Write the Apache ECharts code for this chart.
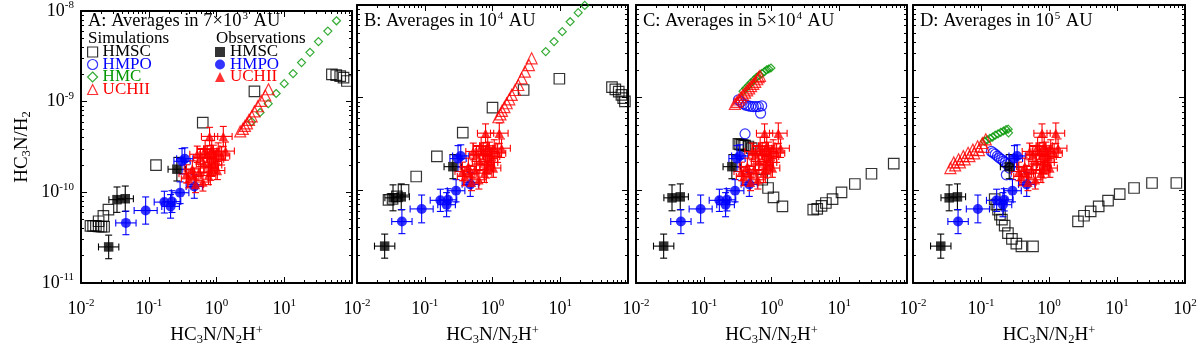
<!DOCTYPE html>
<html><head><meta charset="utf-8">
<script src="https://cdn.jsdelivr.net/npm/echarts@6/dist/echarts.min.js"></script>
<style>html,body{margin:0;padding:0;background:#fff}#c{width:1200px;height:355px}</style>
</head><body><div id="c"></div>
<script>
// ---------- axis ticks / labels ----------
const xMajor = [0.01, 0.1, 1, 10, 100];
const xMajorLabels = ['-2', '-1', '0', '1', '2'];
const xMinor = [0.02,0.03,0.04,0.05,0.06,0.07,0.08,0.09,0.2,0.3,0.4,0.5,0.6,0.7,0.8,0.9,2,3,4,5,6,7,8,9,20,30,40,50,60,70,80,90];
const yMajor = [1e-11, 1e-10, 1e-9, 1e-8];
const yMajorLabels = ['-11', '-10', '-9', '-8'];
const yMinor = [2e-11,3e-11,4e-11,5e-11,6e-11,7e-11,8e-11,9e-11,2e-10,3e-10,4e-10,5e-10,6e-10,7e-10,8e-10,9e-10,2e-9,3e-9,4e-9,5e-9,6e-9,7e-9,8e-9,9e-9];
const panelTitles = ['A: Averages in 7×10{s|3} AU', 'B: Averages in 10{s|4} AU', 'C: Averages in 5×10{s|4} AU', 'D: Averages in 10{s|5} AU'];

// ---------- observations: [x, y, xErr(dex), yErr(dex)] ----------
const obsHMSC = [[0.0256,2.5e-11,0.15,0.13],[0.034,8.3e-11,0.12,0.14],[0.045,8.5e-11,0.12,0.14],[0.26,1.8e-10,0.13,0.13]];
const obsHMPO = [[0.046,4.6e-11,0.15,0.13],[0.09,6.3e-11,0.17,0.15],[0.17,7.8e-11,0.15,0.12],[0.21,7.0e-11,0.13,0.13],[0.22,7.9e-11,0.13,0.12],[0.29,9.9e-11,0.13,0.12],[0.47,1.16e-10,0.12,0.13],[0.31,2.2e-10,0.12,0.14],[0.34,2.35e-10,0.12,0.12]];
const obsUCHII = [[0.79,4.14e-10,0.12,0.1],[1.26,4.14e-10,0.13,0.11],[0.52,2.63e-10,0.11,0.09],[0.68,2.97e-10,0.12,0.1],[0.85,3.03e-10,0.12,0.09],[1.06,2.79e-10,0.11,0.1],[1.36,2.85e-10,0.13,0.1],[0.79,2.42e-10,0.1,0.09],[0.97,2.32e-10,0.12,0.1],[0.65,2.05e-10,0.11,0.09],[0.85,1.89e-10,0.1,0.1],[0.55,1.67e-10,0.12,0.09],[0.36,1.60e-10,0.11,0.1],[0.47,1.51e-10,0.1,0.09],[0.63,1.30e-10,0.11,0.1],[0.49,1.22e-10,0.12,0.09],[0.76,1.53e-10,0.11,0.1],[0.95,2.0e-10,0.1,0.09],[1.19,2.52e-10,0.12,0.1],[0.73,2.63e-10,0.11,0.09],[0.58,2.42e-10,0.1,0.1],[0.44,1.81e-10,0.12,0.09],[1.03,1.74e-10,0.11,0.1],[0.82,1.67e-10,0.1,0.09],[0.39,1.41e-10,0.11,0.1],[0.90,2.63e-10,0.12,0.1]];

// ---------- simulations, panel A ----------
const simHMSC_A = [[0.0138,4.27e-11],[0.0151,4.27e-11],[0.0166,4.27e-11],[0.0182,4.2e-11],[0.020,4.17e-11],[0.0219,4.17e-11],[0.0182,4.8e-11],[0.0214,5.5e-11],[0.0254,6.45e-11],[0.128,2.0e-10],[0.627,5.86e-10],[3.63,1.30e-9],[50.5,2.0e-9],[58.5,1.96e-9],[67,1.91e-9],[75,1.84e-9],[84,1.69e-9]];
const simHMPO_A = [];
const simHMC_A = [[3.3,6.0e-10],[4.4,7.6e-10],[5.8,9.5e-10],[7.6,1.23e-9],[10,1.58e-9],[13.5,2.04e-9],[18,2.7e-9],[24,3.5e-9],[32,4.6e-9],[44,6.0e-9],[59,7.8e-9]];
const simUCHII_A = [[5.85,1.37e-9],[5.25,1.17e-9],[4.57,1.02e-9],[4.07,8.9e-10],[3.63,7.8e-10],[3.31,6.9e-10],[3.02,6.3e-10],[2.82,5.75e-10],[2.63,5.4e-10],[2.45,5.0e-10],[2.24,4.7e-10]];
// ---------- panel B ----------
const simHMSC_B = [[0.0292,7.9e-11],[0.0335,8.1e-11],[0.0388,8.6e-11],[0.0486,1.01e-10],[0.0748,1.41e-10],[0.151,2.32e-10],[0.364,4.2e-10],[1.0,7.8e-10],[2.88,1.21e-9],[9.7,1.6e-9],[58,1.30e-9],[65,1.23e-9],[73,1.16e-9],[80,1.07e-9],[85,9.9e-10],[90,9.1e-10]];
const simHMPO_B = [];
const simHMC_B = [[6.1,3.14e-9],[8.1,4.03e-9],[10.7,5.16e-9],[14.0,6.6e-9],[18.4,8.26e-9],[23,9.9e-9]];
const simUCHII_B = [[3.78,2.66e-9],[3.45,2.25e-9],[3.01,1.91e-9],[2.69,1.62e-9],[2.40,1.37e-9],[2.15,1.21e-9],[1.92,1.07e-9],[1.77,9.6e-10],[1.62,8.7e-10],[1.50,7.9e-10],[1.38,7.2e-10],[1.31,6.6e-10],[1.22,6.15e-10]];
// ---------- panel C ----------
const simHMSC_C = [[0.325,3.18e-10],[0.344,3.14e-10],[0.364,3.10e-10],[0.385,3.06e-10],[0.407,3.03e-10],[0.456,2.97e-10],[0.51,2.85e-10],[0.73,1.30e-10],[0.89,1.06e-10],[1.07,8.4e-11],[1.45,6.7e-11],[4.13,6.2e-11],[4.73,6.3e-11],[5.48,6.8e-11],[6.35,7.3e-11],[7.96,8.05e-11],[10.8,9.5e-11],[17.0,1.17e-10],[29.9,1.51e-10],[63.7,1.94e-10]];
const simHMPO_C = [[0.325,9.46e-10],[0.354,9.0e-10],[0.385,8.57e-10],[0.419,8.3e-10],[0.456,8.17e-10],[0.495,8.05e-10],[0.54,8.0e-10],[0.59,8.0e-10],[0.64,8.0e-10],[0.716,8.17e-10],[0.69,6.8e-10],[0.407,4.07e-10]];
const simHMC_C = [[0.38,1.17e-9],[0.417,1.26e-9],[0.457,1.35e-9],[0.50,1.45e-9],[0.55,1.55e-9],[0.60,1.66e-9],[0.66,1.74e-9],[0.72,1.82e-9],[0.79,1.91e-9],[0.85,2.0e-9],[0.91,2.04e-9],[0.98,2.09e-9]];
const simUCHII_C = [[0.288,8.57e-10],[0.309,9.0e-10],[0.331,9.55e-10],[0.355,1.01e-9],[0.38,1.07e-9],[0.407,1.135e-9],[0.437,1.2e-9],[0.468,1.26e-9],[0.50,1.33e-9],[0.537,1.41e-9],[0.575,1.48e-9],[0.617,1.58e-9],[0.646,1.66e-9],[0.676,1.72e-9]];
// ---------- panel D ----------
const simHMSC_D = [[0.159,8.05e-11],[0.168,7.0e-11],[0.178,6.18e-11],[0.19,5.46e-11],[0.203,4.82e-11],[0.223,4.16e-11],[0.249,3.46e-11],[0.285,2.99e-11],[0.331,2.66e-11],[0.393,2.49e-11],[0.582,2.49e-11],[2.67,4.62e-11],[3.27,5.32e-11],[4.10,5.93e-11],[5.38,6.71e-11],[7.38,7.73e-11],[10.96,9.12e-11],[17.8,1.06e-10],[32.7,1.2e-10],[74.6,1.2e-10]];
const simHMPO_D = [[0.142,2.63e-10],[0.151,2.54e-10],[0.162,2.45e-10],[0.174,2.34e-10],[0.186,2.24e-10],[0.20,2.16e-10],[0.214,2.07e-10],[0.229,2.0e-10],[0.245,1.9e-10],[0.263,1.74e-10],[0.236,1.47e-10]];
const simHMC_D = [[0.112,3.39e-10],[0.123,3.51e-10],[0.135,3.63e-10],[0.148,3.76e-10],[0.162,3.94e-10],[0.178,4.07e-10],[0.195,4.22e-10],[0.214,4.37e-10],[0.234,4.52e-10],[0.251,4.57e-10],[0.254,4.17e-10]];
const simUCHII_D = [[0.0355,1.74e-10],[0.0417,1.86e-10],[0.049,2.0e-10],[0.0575,2.16e-10],[0.0676,2.34e-10],[0.0794,2.51e-10],[0.0933,2.72e-10],[0.1096,2.95e-10],[0.0398,2.0e-10],[0.0468,2.16e-10],[0.055,2.34e-10],[0.0646,2.54e-10],[0.0759,2.75e-10],[0.0891,2.99e-10],[0.1047,3.24e-10],[0.1175,3.55e-10]];

const panels = [
  {hmsc: simHMSC_A, hmpo: simHMPO_A, hmc: simHMC_A, uchii: simUCHII_A},
  {hmsc: simHMSC_B, hmpo: simHMPO_B, hmc: simHMC_B, uchii: simUCHII_B},
  {hmsc: simHMSC_C, hmpo: simHMPO_C, hmc: simHMC_C, uchii: simUCHII_C},
  {hmsc: simHMSC_D, hmpo: simHMPO_D, hmc: simHMC_D, uchii: simUCHII_D}
];

// ---------- style / layout ----------
const FONT = "'Liberation Serif','Times New Roman',serif";
const BLACK = '#000000', BLUE = '#0000ff', GREEN = '#009600', RED = '#ff0000';
const gridLefts = [81, 357, 636, 913];
const gridWidths = [271, 271, 271, 272];
const gridTop = 5, gridHeight = 278;

const richTick = {
  b: {fontFamily: FONT, fontSize: 18, color: '#000'},
  s: {fontFamily: FONT, fontSize: 11, color: '#000', padding: [0, 0, 11, 0]}
};
const richName = {
  n: {fontFamily: FONT, fontSize: 19, color: '#000'},
  sub: {fontFamily: FONT, fontSize: 12.5, color: '#000', padding: [9, 0, 0, 0]},
  sup: {fontFamily: FONT, fontSize: 12.5, color: '#000', padding: [0, 0, 10, 0]}
};

const grids = [], xAxes = [], yAxes = [], series = [], titles = [];
function toErr(arr) {
  return arr.map(d => [d[0], d[1], d[0] / Math.pow(10, d[2]), d[0] * Math.pow(10, d[2]), d[1] / Math.pow(10, d[3]), d[1] * Math.pow(10, d[3])]);
}
function errRender(color) {
  return function (params, api) {
    const x = api.value(0), y = api.value(1);
    const c = api.coord([x, y]);
    const xl = api.coord([api.value(2), y]), xh = api.coord([api.value(3), y]);
    const yl = api.coord([x, api.value(4)]), yh = api.coord([x, api.value(5)]);
    const cap = 3.5;
    const st = {stroke: color, lineWidth: 1.1};
    const L = (x1, y1, x2, y2) => ({type: 'line', shape: {x1, y1, x2, y2}, style: st});
    return {type: 'group', children: [
      L(xl[0], c[1], xh[0], c[1]),
      L(xl[0], c[1] - cap, xl[0], c[1] + cap),
      L(xh[0], c[1] - cap, xh[0], c[1] + cap),
      L(c[0], yl[1], c[0], yh[1]),
      L(c[0] - cap, yl[1], c[0] + cap, yl[1]),
      L(c[0] - cap, yh[1], c[0] + cap, yh[1])
    ]};
  };
}

for (let g = 0; g < 4; g++) {
  grids.push({left: gridLefts[g], top: gridTop, width: gridWidths[g], height: gridHeight});
  const baseX = {type: 'log', logBase: 10, min: 0.01, max: 100, gridIndex: g, splitLine: {show: false}, splitArea: {show: false}};
  const baseY = {type: 'log', logBase: 10, min: 1e-11, max: 1e-8, gridIndex: g, splitLine: {show: false}, splitArea: {show: false}};
  const frameLine = {show: true, onZero: false, lineStyle: {color: '#000', width: 2}};
  const noLine = {show: false, onZero: false};
  const majTick = vals => ({show: true, inside: true, length: 6, customValues: vals, lineStyle: {color: '#000', width: 1}});
  const minTick = vals => ({show: true, inside: true, length: 3, customValues: vals, lineStyle: {color: '#000', width: 1}});
  const xLabVals = g < 3 ? xMajor.slice(0, 4) : xMajor;
  // bottom main
  xAxes.push(Object.assign({}, baseX, {
    position: 'bottom', axisLine: frameLine, axisTick: majTick(xMajor),
    axisLabel: {show: true, customValues: xLabVals, margin: 15,
      formatter: v => '{b|10}{s|' + xMajorLabels[xMajor.findIndex(m => Math.abs(Math.log10(m) - Math.log10(v)) < 1e-6)] + '}',
      rich: richTick},
    name: '{n|HC}{sub|3}{n|N/N}{sub|2}{n|H}{sup|+}', nameLocation: 'middle', nameGap: 41,
    nameTextStyle: {rich: richName}
  }));
  xAxes.push(Object.assign({}, baseX, {position: 'bottom', axisLine: noLine, axisTick: minTick(xMinor), axisLabel: {show: false}}));
  xAxes.push(Object.assign({}, baseX, {position: 'top', axisLine: frameLine, axisTick: majTick(xMajor), axisLabel: {show: false}}));
  xAxes.push(Object.assign({}, baseX, {position: 'top', axisLine: noLine, axisTick: minTick(xMinor), axisLabel: {show: false}}));
  // left main
  const yMain = Object.assign({}, baseY, {
    position: 'left', axisLine: frameLine, axisTick: majTick(yMajor),
    axisLabel: {show: g === 0, customValues: yMajor, margin: 7,
      formatter: v => '{b|10}{s|' + yMajorLabels[yMajor.findIndex(m => Math.abs(Math.log10(m) - Math.log10(v)) < 1e-6)] + '}',
      rich: richTick}
  });
  if (g === 0) {
    yMain.name = '{n|HC}{sub|3}{n|N/H}{sub|2}';
    yMain.nameLocation = 'middle';
    yMain.nameRotate = 90;
    yMain.nameGap = 48;
    yMain.nameTextStyle = {rich: richName};
  }
  yAxes.push(yMain);
  yAxes.push(Object.assign({}, baseY, {position: 'left', axisLine: noLine, axisTick: minTick(yMinor), axisLabel: {show: false}}));
  yAxes.push(Object.assign({}, baseY, {position: 'right', axisLine: frameLine, axisTick: majTick(yMajor), axisLabel: {show: false}}));
  yAxes.push(Object.assign({}, baseY, {position: 'right', axisLine: noLine, axisTick: minTick(yMinor), axisLabel: {show: false}}));

  const xi = 4 * g, yi = 4 * g;
  const P = panels[g];
  const open = (name, data, symbol, size, color) => ({
    name, type: 'scatter', xAxisIndex: xi, yAxisIndex: yi, data, symbol, symbolSize: size, silent: true, z: 2,
    itemStyle: {color: 'rgba(0,0,0,0)', borderColor: color, borderWidth: 1.2}
  });
  series.push(open('HMSC sim', P.hmsc, 'rect', 10.5, BLACK));
  series.push(open('HMPO sim', P.hmpo, 'circle', 10, BLUE));
  series.push(open('HMC sim', P.hmc, 'diamond', 8, GREEN));
  series.push(open('UCHII sim', P.uchii, 'triangle', 11, RED));
  const errS = (data, color) => ({type: 'custom', xAxisIndex: xi, yAxisIndex: yi, data: toErr(data), renderItem: errRender(color), encode: {x: 0, y: 1}, silent: true, z: 3});
  const filled = (name, data, symbol, size, color) => ({
    name, type: 'scatter', xAxisIndex: xi, yAxisIndex: yi, data: data.map(d => [d[0], d[1]]), symbol, symbolSize: size, silent: true, z: 4,
    itemStyle: {color: color, borderWidth: 0}
  });
  series.push(errS(obsHMSC, BLACK));
  series.push(errS(obsHMPO, BLUE));
  series.push(errS(obsUCHII, RED));
  series.push(filled('HMSC obs', obsHMSC, 'rect', 9.5, BLACK));
  series.push(filled('HMPO obs', obsHMPO, 'circle', 10, BLUE));
  series.push(filled('UCHII obs', obsUCHII, 'triangle', 9.5, RED));

  titles.push({text: panelTitles[g], left: gridLefts[g] + 7, top: 11, padding: 0,
    textStyle: {fontFamily: FONT, fontSize: 18.5, fontWeight: 'normal', color: '#000',
      rich: {s: {fontFamily: FONT, fontSize: 11, color: '#000', padding: [0, 1, 10, 1]}}}});
}
titles.push({text: 'Simulations', left: 88, top: 30, padding: 0, textStyle: {fontFamily: FONT, fontSize: 17, fontWeight: 'normal', color: '#000'}});
titles.push({text: 'Observations', left: 216, top: 30, padding: 0, textStyle: {fontFamily: FONT, fontSize: 17, fontWeight: 'normal', color: '#000'}});

// legend entries
const legendEntries = [
  {name: 'HMSC sim', label: 'HMSC', icon: 'rect', color: BLACK, fill: false, left: 87, top: 43.5},
  {name: 'HMPO sim', label: 'HMPO', icon: 'circle', color: BLUE, fill: false, left: 87, top: 56},
  {name: 'HMC sim', label: 'HMC', icon: 'diamond', color: GREEN, fill: false, left: 87, top: 68.5},
  {name: 'UCHII sim', label: 'UCHII', icon: 'triangle', color: RED, fill: false, left: 87, top: 81},
  {name: 'HMSC obs', label: 'HMSC', icon: 'rect', color: BLACK, fill: true, left: 215, top: 43.5},
  {name: 'HMPO obs', label: 'HMPO', icon: 'circle', color: BLUE, fill: true, left: 215, top: 56},
  {name: 'UCHII obs', label: 'UCHII', icon: 'triangle', color: RED, fill: true, left: 215, top: 68.5}
];
const legends = legendEntries.map(e => ({
  left: e.left, top: e.top, padding: 0, itemWidth: 10, itemHeight: 10, selectedMode: false,
  data: [{name: e.name, icon: e.icon,
    itemStyle: e.fill ? {color: e.color, borderWidth: 0} : {color: 'rgba(0,0,0,0)', borderColor: e.color, borderWidth: 1.2}}],
  formatter: () => e.label,
  textStyle: {fontFamily: FONT, fontSize: 17, color: e.color}
}));

const chart = echarts.init(document.getElementById('c'), null, {renderer: 'canvas'});
chart.setOption({
  animation: false,
  backgroundColor: '#fff',
  title: titles,
  legend: legends,
  grid: grids,
  xAxis: xAxes,
  yAxis: yAxes,
  series: series
});
</script>
</body></html>
